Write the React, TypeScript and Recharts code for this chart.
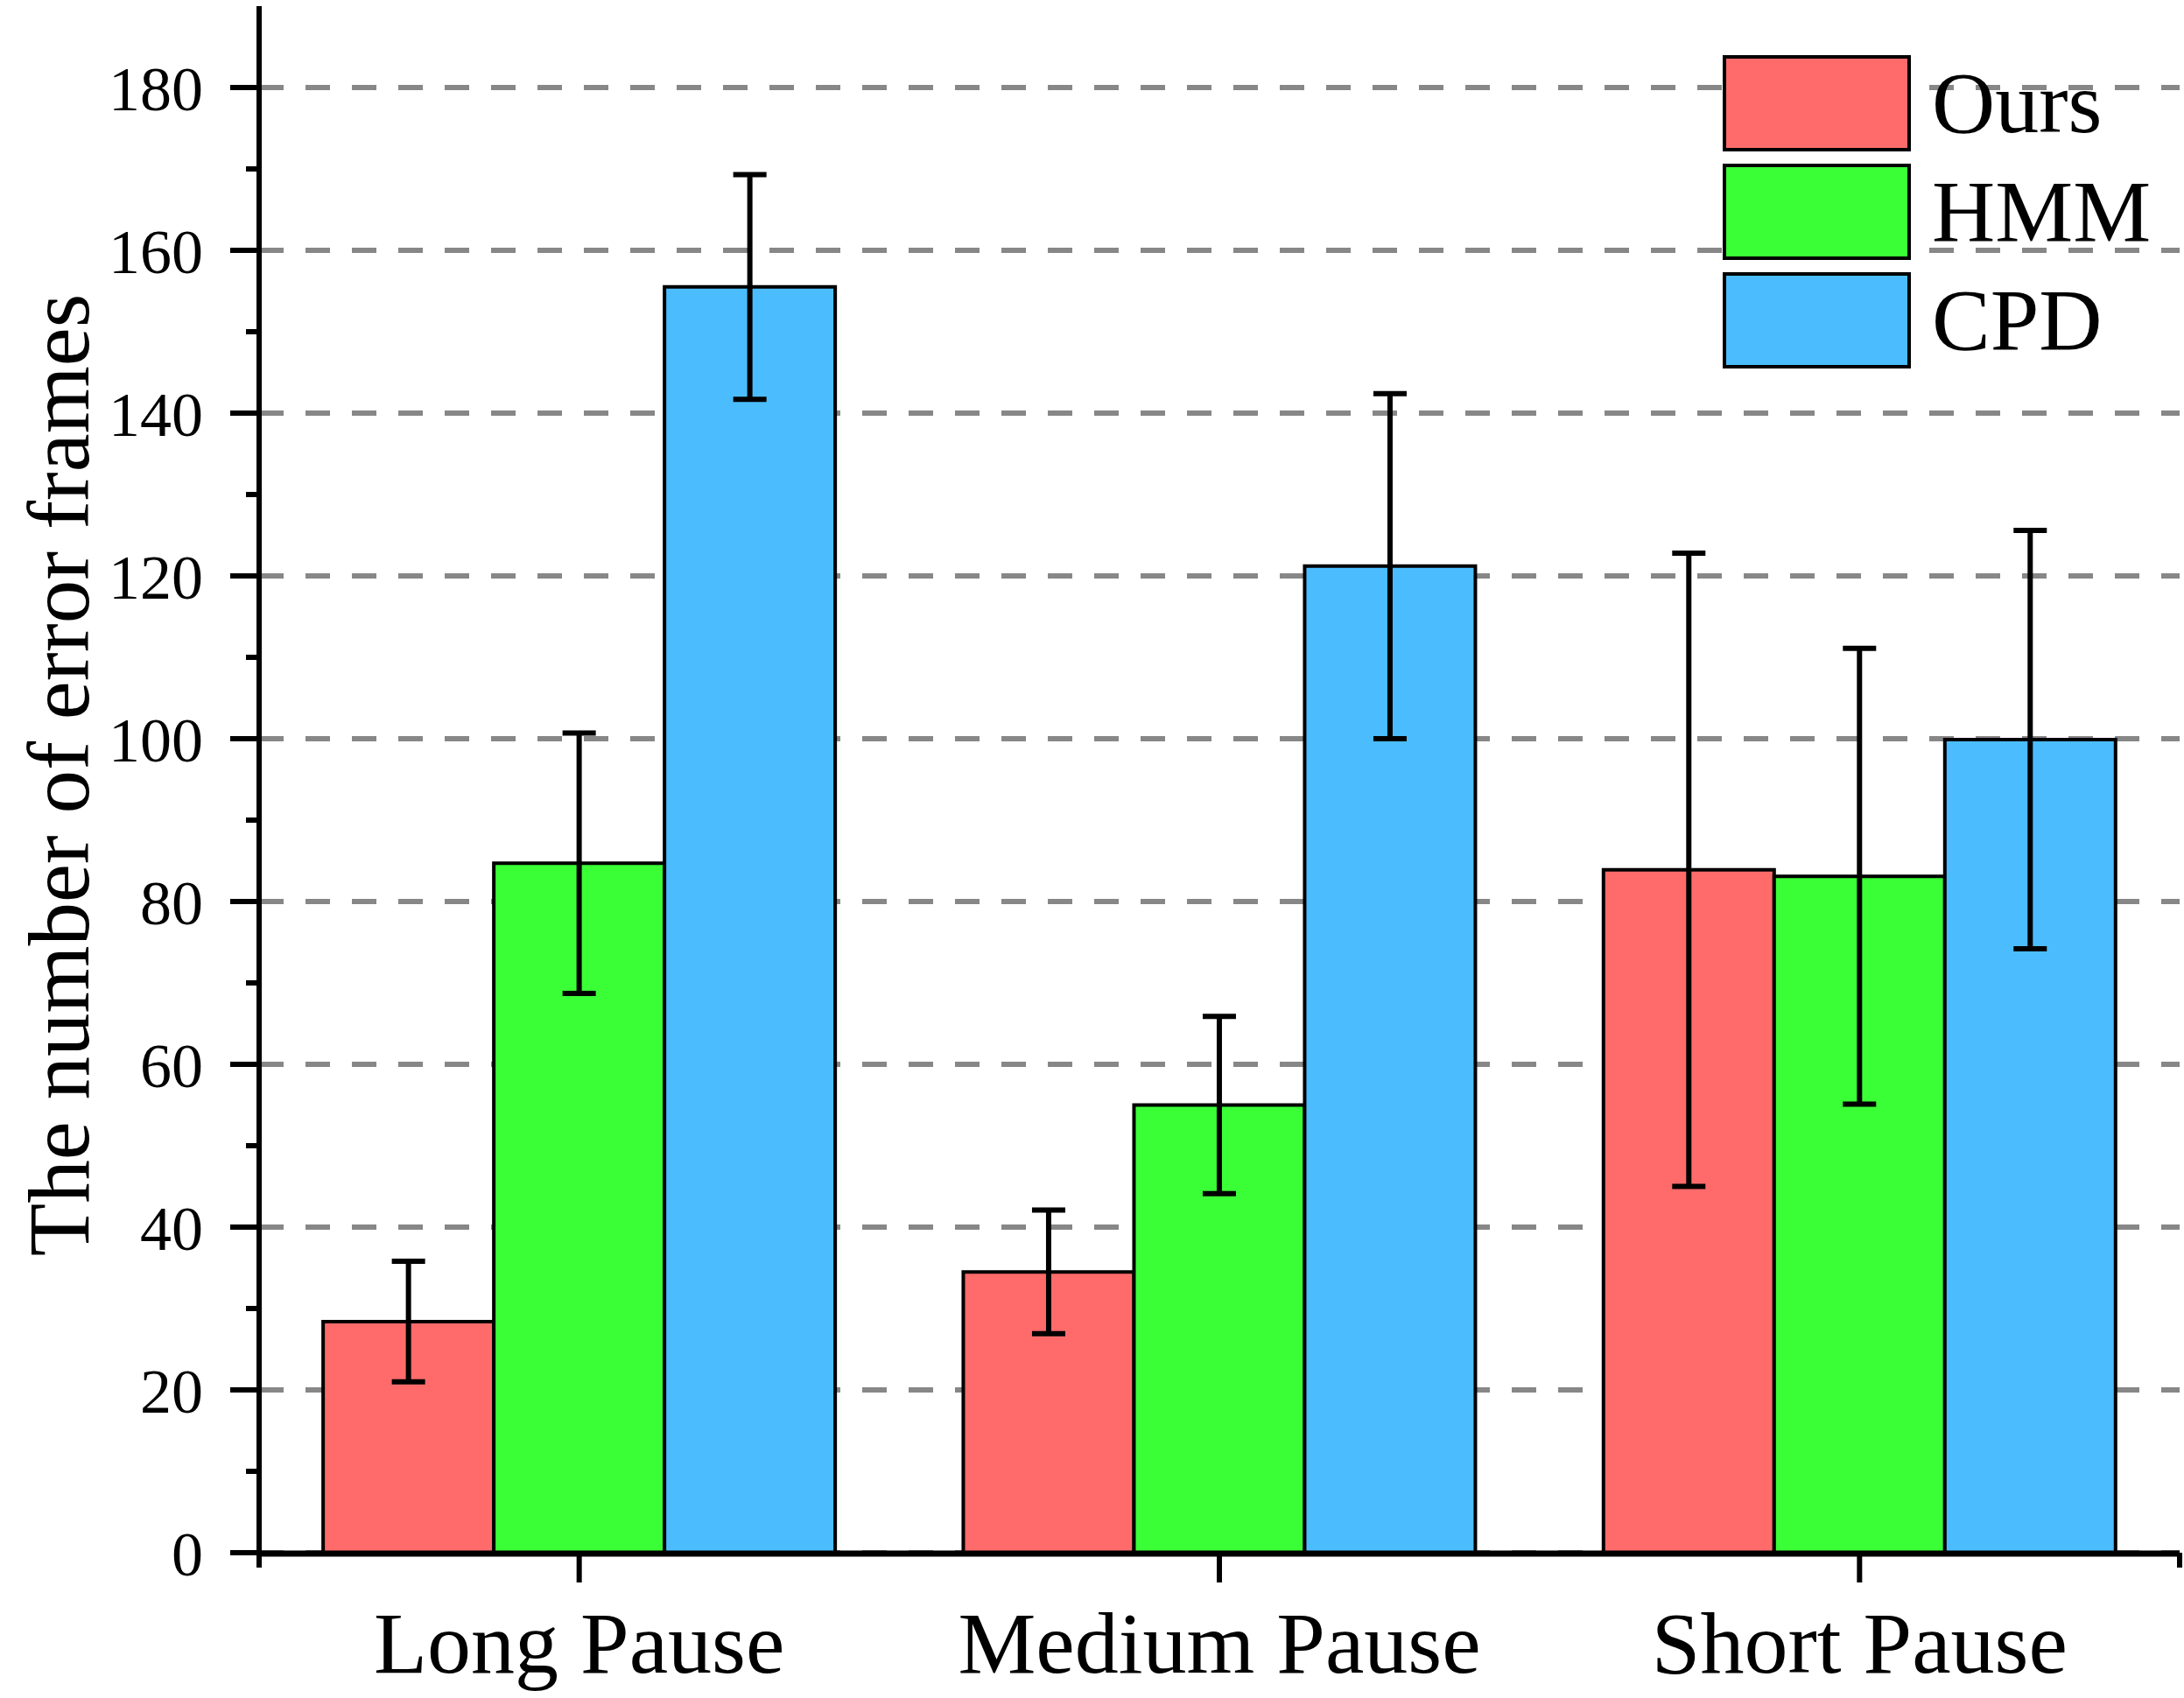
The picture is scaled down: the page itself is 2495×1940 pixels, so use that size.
import React from 'react';
import { BarChart, Bar, XAxis, YAxis, CartesianGrid, ErrorBar, Legend } from 'recharts';

const categories = ['Long Pause', 'Medium Pause', 'Short Pause'];
const seriesNames = ['Ours', 'HMM', 'CPD'];
const oursValues = [28.4, 34.5, 83.9];
const oursErrors = [7.4, 7.6, 38.9];
const hmmValues = [84.7, 55.0, 83.1];
const hmmErrors = [16.0, 10.9, 28.0];
const cpdValues = [155.5, 121.2, 99.9];
const cpdErrors = [13.8, 21.2, 25.7];
const yTicks = [0, 20, 40, 60, 80, 100, 120, 140, 160, 180];
const yMinorTicks = [10, 30, 50, 70, 90, 110, 130, 150, 170];
const xBoundaryTicks = [0, 1, 2, 3];
const yTitle = 'The number of error frames';

const seriesColors = ['#FF6B6B', '#3BFF36', '#4BBDFF'];
const FONT = "'Liberation Serif', 'Times New Roman', serif";
const Y_TICK_SIZE = 33;
const Y_MINOR_SIZE = 15;
const Y_TICK_MARGIN = 31;
const X_MAIN = 'b_main';
const X_MINOR = 'a_minor';

const data = categories.map((c, i) => ({
  category: c,
  ours: oursValues[i],
  oursErr: oursErrors[i],
  hmm: hmmValues[i],
  hmmErr: hmmErrors[i],
  cpd: cpdValues[i],
  cpdErr: cpdErrors[i],
}));

const allYTicks = [...yTicks, ...yMinorTicks].sort((a, b) => a - b);

const YTick = (props: any) => {
  const { x, y, payload } = props;
  const v = payload && payload.value;
  const major = yTicks.indexOf(v) >= 0;
  const axisX = x + Y_TICK_SIZE + Y_TICK_MARGIN;
  return (
    <g>
      <line
        x1={axisX - (major ? Y_TICK_SIZE : Y_MINOR_SIZE)}
        x2={axisX}
        y1={y}
        y2={y}
        stroke="#000"
        strokeWidth={6}
      />
      {major && (
        <text x={x} y={y} dy="0.355em" textAnchor="end" fontSize={72} fontFamily={FONT} fill="#000">
          {v}
        </text>
      )}
    </g>
  );
};

const YTitle = (props: any) => {
  const vb = props.viewBox || { x: 0, y: 7, width: 296, height: 1767 };
  const cx = vb.x + 101;
  const cy = vb.y + vb.height / 2 - 5;
  return (
    <text
      x={cx}
      y={cy}
      transform={`rotate(-90 ${cx} ${cy})`}
      textAnchor="middle"
      fontSize={99}
      fontFamily={FONT}
      fill="#000"
    >
      {yTitle}
    </text>
  );
};

const LegendBox = () => (
  <div style={{ fontFamily: FONT }}>
    {seriesNames.map((n, i) => (
      <div
        key={n}
        style={{ display: 'flex', alignItems: 'center', height: 110, marginBottom: i < seriesNames.length - 1 ? 14 : 0 }}
      >
        <div
          style={{
            width: 215,
            minWidth: 215,
            flexShrink: 0,
            height: 110,
            boxSizing: 'border-box',
            border: '4px solid #000',
            background: seriesColors[i],
          }}
        />
        <span style={{ marginLeft: 24, fontSize: 100, lineHeight: 1, color: '#000', whiteSpace: 'nowrap' }}>{n}</span>
      </div>
    ))}
  </div>
);

const emptyLabel = () => '';

const gridRows = (p: any) => {
  const s = p && p.yAxis ? p.yAxis.scale : null;
  if (typeof s === 'function') return yTicks.map((t) => s(t));
  if (s && typeof s.map === 'function') return yTicks.map((t) => s.map(t));
  if (s && typeof s.apply === 'function') return yTicks.map((t) => s.apply(t));
  return [];
};

export default function App() {
  return (
    <div style={{ width: 2495, height: 1940, background: '#fff' }}>
      <style>{'body{margin:0;background:#fff}'}</style>
      <BarChart
        width={2495}
        height={1940}
        data={data}
        margin={{ top: 7, right: 5, bottom: 0, left: 0 }}
        barCategoryGap="10%"
        barGap={0}
      >
        <CartesianGrid
          xAxisId={X_MAIN}
          vertical={false}
          stroke="#878787"
          strokeWidth={6}
          strokeDasharray="28 25"
          horizontalCoordinatesGenerator={gridRows}
        />
        <XAxis
          xAxisId={X_MINOR}
          type="number"
          domain={[0, 3]}
          ticks={xBoundaryTicks}
          allowDataOverflow
          height={1}
          tickFormatter={emptyLabel}
          tick={{ fontSize: 1 }}
          axisLine={false}
          tickSize={17}
          tickLine={{ stroke: '#000', strokeWidth: 6 }}
        />
        <XAxis
          xAxisId={X_MAIN}
          dataKey="category"
          interval={0}
          height={165}
          tickSize={33}
          tickMargin={32}
          axisLine={{ stroke: '#000', strokeWidth: 7 }}
          tickLine={{ stroke: '#000', strokeWidth: 6 }}
          tick={{ fontSize: 100, fill: '#000', fontFamily: FONT }}
        />
        <YAxis
          domain={[0, 190]}
          ticks={allYTicks}
          interval={0}
          allowDataOverflow
          width={296}
          tickSize={Y_TICK_SIZE}
          tickMargin={Y_TICK_MARGIN}
          axisLine={{ stroke: '#000', strokeWidth: 6 }}
          tickLine={false}
          tick={<YTick />}
          label={<YTitle />}
        />
        <Legend
          layout="vertical"
          align="center"
          verticalAlign="middle"
          wrapperStyle={{ position: 'absolute', left: 1968, top: 63, width: 520 }}
          content={() => <LegendBox />}
        />
        <Bar xAxisId={X_MAIN} dataKey="ours" name="Ours" fill={seriesColors[0]} stroke="#000" strokeWidth={4} isAnimationActive={false}>
          <ErrorBar dataKey="oursErr" width={19} stroke="#000" strokeWidth={6} isAnimationActive={false} />
        </Bar>
        <Bar xAxisId={X_MAIN} dataKey="hmm" name="HMM" fill={seriesColors[1]} stroke="#000" strokeWidth={4} isAnimationActive={false}>
          <ErrorBar dataKey="hmmErr" width={19} stroke="#000" strokeWidth={6} isAnimationActive={false} />
        </Bar>
        <Bar xAxisId={X_MAIN} dataKey="cpd" name="CPD" fill={seriesColors[2]} stroke="#000" strokeWidth={4} isAnimationActive={false}>
          <ErrorBar dataKey="cpdErr" width={19} stroke="#000" strokeWidth={6} isAnimationActive={false} />
        </Bar>
      </BarChart>
    </div>
  );
}
